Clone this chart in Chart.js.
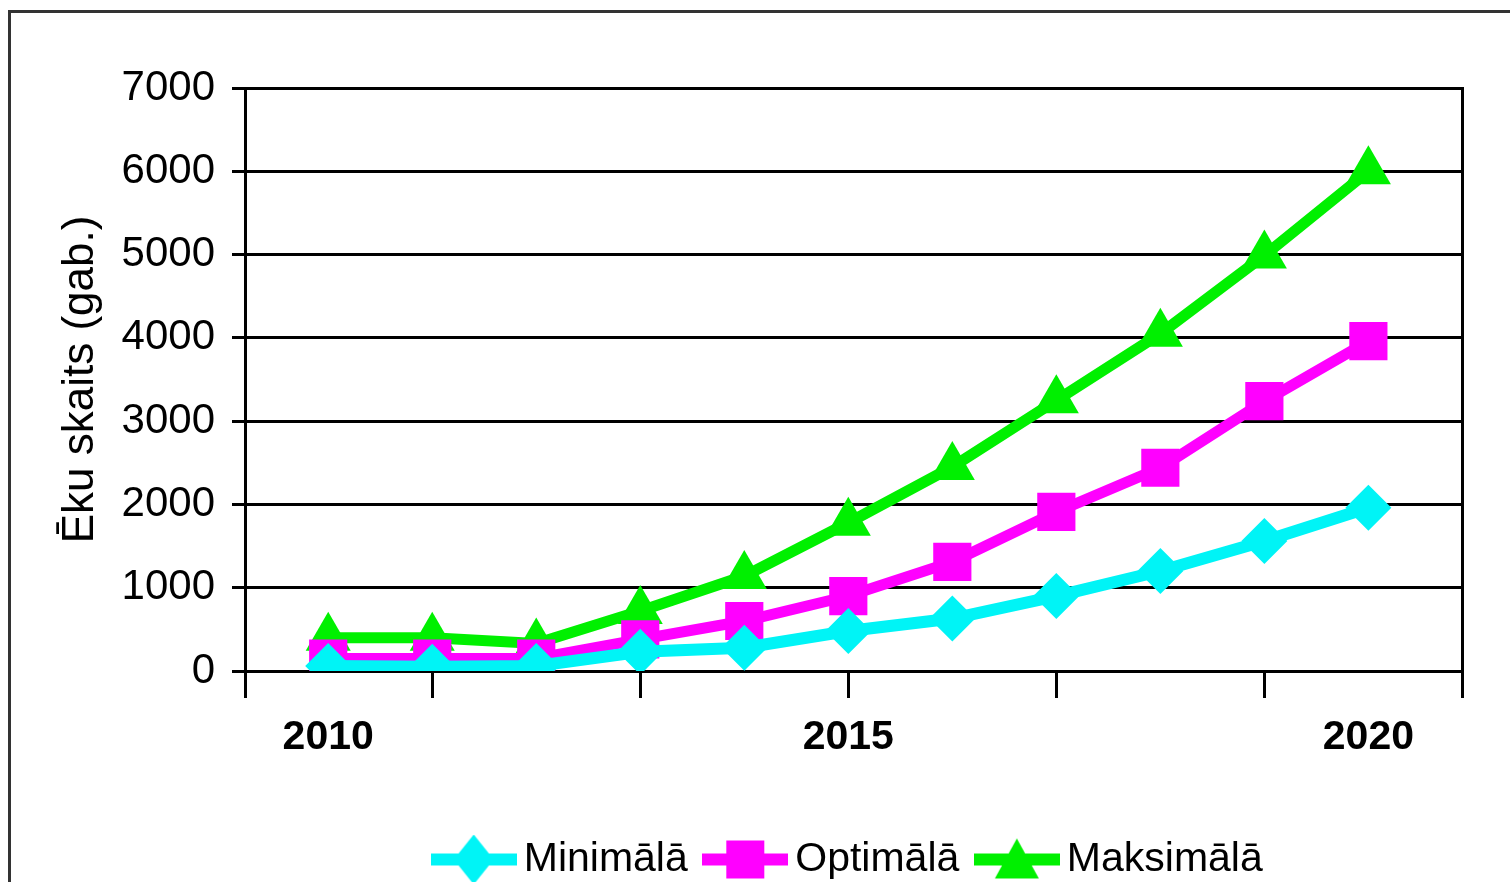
<!DOCTYPE html>
<html>
<head>
<meta charset="utf-8">
<script src="https://cdn.jsdelivr.net/npm/chart.js@4.4.1/dist/chart.umd.min.js"></script>
<style>
  html, body { margin: 0; padding: 0; background: #fff; }
  #wrap { position: relative; width: 1510px; height: 882px; overflow: hidden; }
  #frame { position: absolute; left: 8px; top: 10px; width: 1600px; height: 1000px; border-left: 3px solid #333; border-top: 3px solid #333; }
  #chart { position: absolute; left: 0; top: 0; }
</style>
</head>
<body>
<div id="wrap">
  <div id="frame"></div>
  <canvas id="chart" width="1510" height="882"></canvas>
</div>
<script>
const years = [2010, 2011, 2012, 2013, 2014, 2015, 2016, 2017, 2018, 2019, 2020];
const minimala = [60, 50, 60, 230, 280, 480, 630, 900, 1200, 1560, 1960];
const optimala = [150, 150, 150, 380, 600, 900, 1310, 1910, 2440, 3240, 3960];
const maksimala = [400, 400, 330, 720, 1140, 1780, 2450, 3250, 4050, 4990, 6000];
const yearLabels = [2010, 2015, 2020];
const yearTickMarks = [2009.2, 2011, 2013, 2015, 2017, 2019, 2020.9];

const FONT = '"Liberation Sans", Arial, sans-serif';
const cCyan = '#00f4f6';
const cMag = '#ff00ff';
const cGreen = '#00f000';

// legend symbol: line with the marker in the middle
function legendIcon(color, shape) {
    const c = document.createElement('canvas');
    c.width = 86; c.height = 50;
    const g = c.getContext('2d');
    g.fillStyle = color;
    g.fillRect(0, 19, 86, 12);
    g.beginPath();
    if (shape === 'diamond') {
        g.moveTo(43, 0); g.lineTo(63, 25); g.lineTo(43, 50); g.lineTo(23, 25);
    } else if (shape === 'square') {
        g.rect(24, 6, 38, 38);
    } else {
        g.moveTo(43, 4); g.lineTo(65, 44); g.lineTo(21, 44);
    }
    g.closePath();
    g.fill();
    return c;
}

function series(vals) {
    return vals.map((v, i) => ({ x: years[i], y: v }));
}

const ctx = document.getElementById('chart').getContext('2d');
new Chart(ctx, {
    type: 'line',
    data: {
        datasets: [
            {
                label: 'Minimālā',
                data: series(minimala),
                borderColor: cCyan,
                backgroundColor: cCyan,
                borderWidth: 12,
                pointStyle: 'rectRot',
                pointRadius: 23,
                pointBorderWidth: 0,
                legendIcon: legendIcon(cCyan, 'diamond')
            },
            {
                label: 'Optimālā',
                data: series(optimala),
                borderColor: cMag,
                backgroundColor: cMag,
                borderWidth: 11,
                pointStyle: 'rect',
                pointRadius: 27,
                pointBorderWidth: 0,
                legendIcon: legendIcon(cMag, 'square')
            },
            {
                label: 'Maksimālā',
                data: series(maksimala),
                borderColor: cGreen,
                backgroundColor: cGreen,
                borderWidth: 11,
                pointStyle: 'triangle',
                pointRadius: 26,
                pointBorderWidth: 0,
                legendIcon: legendIcon(cGreen, 'triangle')
            }
        ]
    },
    options: {
        responsive: false,
        animation: false,
        layout: { padding: { top: 88, left: 0, right: 48, bottom: -8 } },
        plugins: {
            tooltip: { enabled: false },
            legend: {
                position: 'bottom',
                fullSize: false,
                labels: {
                    color: '#000',
                    font: { family: FONT, size: 41 },
                    usePointStyle: true,
                    pointStyleWidth: 59,
                    padding: 28,
                    generateLabels: function(chart) {
                        return chart.data.datasets.map((ds, i) => ({
                            text: ds.label,
                            pointStyle: ds.legendIcon,
                            fillStyle: ds.borderColor,
                            strokeStyle: ds.borderColor,
                            lineWidth: 0,
                            hidden: false,
                            datasetIndex: i
                        }));
                    }
                }
            }
        },
        scales: {
            x: {
                type: 'linear',
                position: 'bottom',
                min: 2009.2,
                max: 2020.9,
                afterBuildTicks: s => { s.ticks = yearTickMarks.map(v => ({ value: v })); },
                ticks: { display: false },
                grid: { drawOnChartArea: false, color: '#000', lineWidth: 3, tickLength: 27 },
                border: { display: false }
            },
            x2: {
                type: 'linear',
                position: 'bottom',
                min: 2009.2,
                max: 2020.9,
                afterBuildTicks: s => { s.ticks = yearLabels.map(v => ({ value: v })); },
                afterFit: s => { s.height = 113; },
                ticks: {
                    color: '#000',
                    padding: 15,
                    maxRotation: 0,
                    autoSkip: false,
                    font: { family: FONT, size: 41, weight: 'bold' },
                    callback: v => String(v)
                },
                grid: { display: false, drawTicks: false },
                border: { display: false }
            },
            y: {
                position: 'left',
                min: 0,
                max: 7000,
                afterFit: s => { s.width = 245; },
                ticks: {
                    stepSize: 1000,
                    color: '#000',
                    padding: 17,
                    font: { family: FONT, size: 42 },
                    callback: v => String(v)
                },
                grid: { color: '#000', lineWidth: 3, tickLength: 13 },
                border: { color: '#000', width: 3 },
                title: {
                    display: true,
                    text: 'Ēku skaits (gab.)',
                    color: '#000',
                    font: { family: FONT, size: 44 },
                    padding: { top: 54, bottom: 0 }
                }
            },
            y2: {
                position: 'right',
                min: 0,
                max: 7000,
                ticks: { display: false },
                grid: { display: false, drawTicks: false },
                border: { color: '#000', width: 3 }
            }
        }
    }
});
</script>
</body>
</html>
